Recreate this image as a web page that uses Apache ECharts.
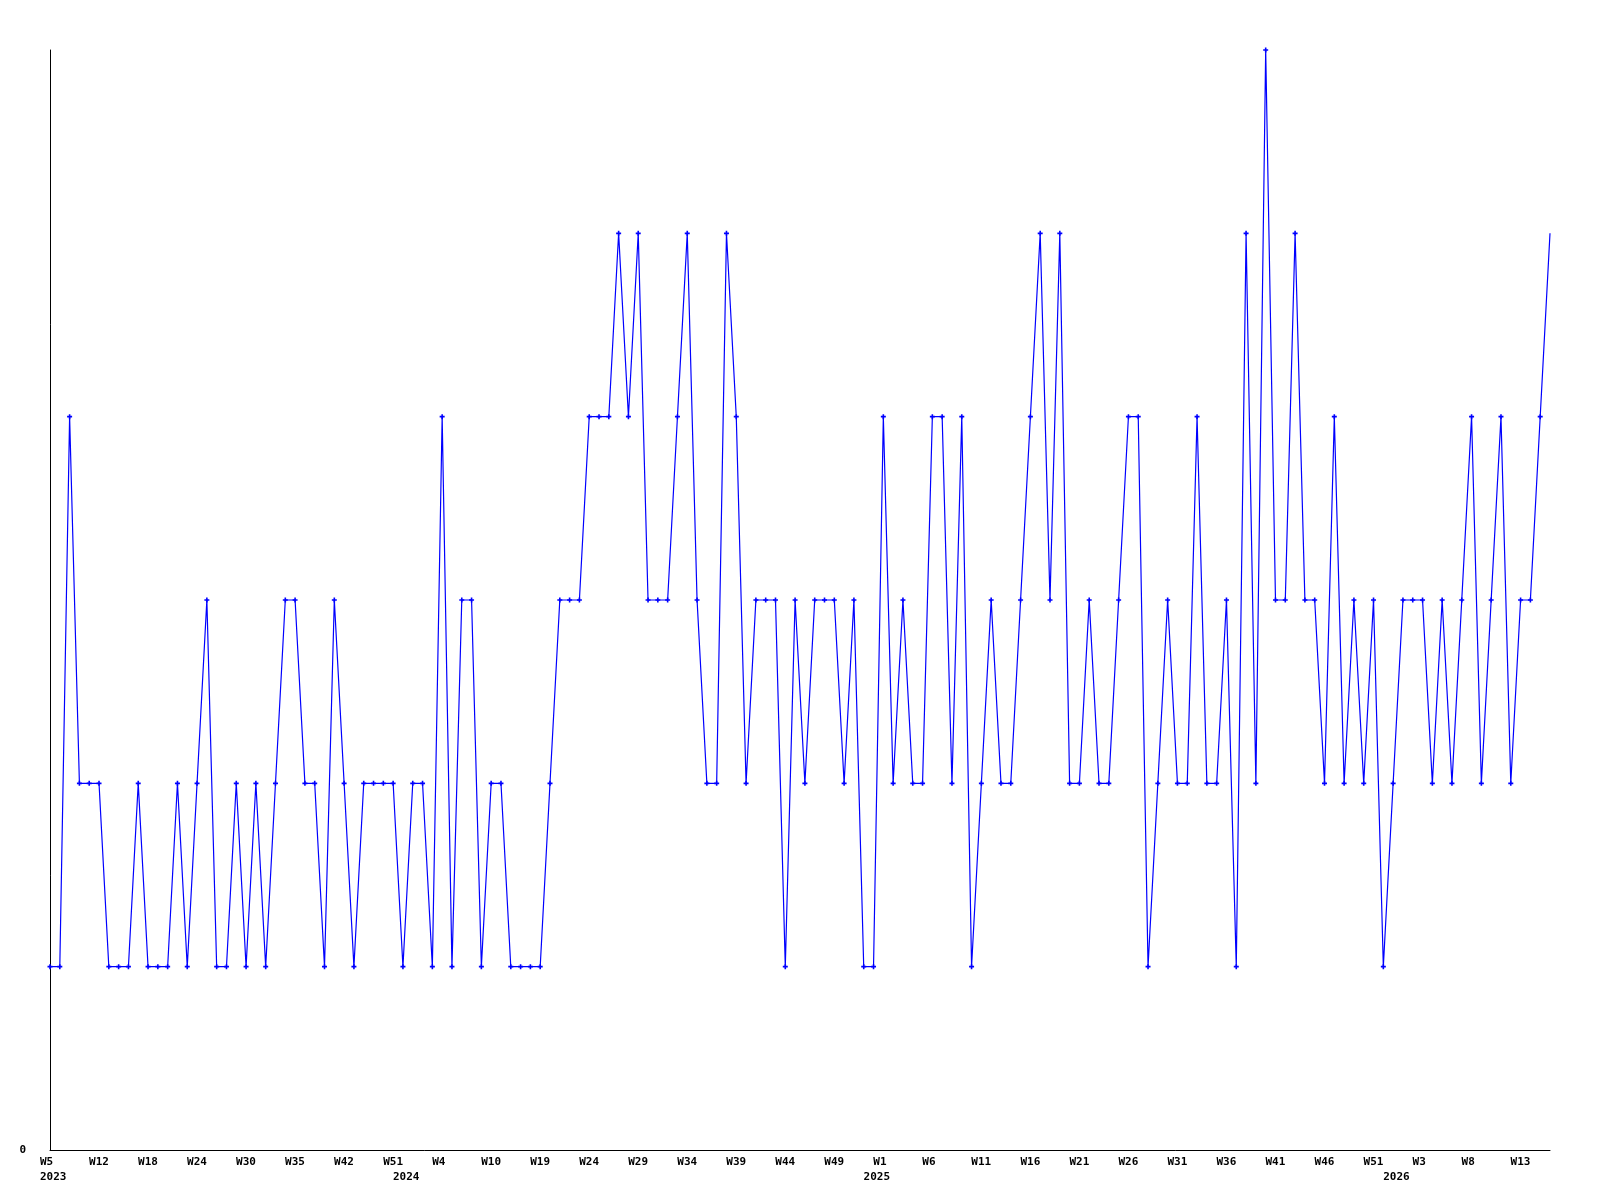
<!DOCTYPE html>
<html>
<head>
<meta charset="utf-8">
<script src="https://cdn.jsdelivr.net/npm/echarts@6/dist/echarts.min.js"></script>
<style>
html,body{margin:0;padding:0;background:#fff;}
#chart{width:1600px;height:1200px;}
</style>
</head>
<body>
<div id="chart"></div>
<script>
// Weekly values (one per point)
const values = [
  1,1,4,2,2,2,1,1,1,2,
  1,1,1,2,1,2,3,1,1,2,
  1,2,1,2,3,3,2,2,1,3,
  2,1,2,2,2,2,1,2,2,1,
  4,1,3,3,1,2,2,1,1,1,
  1,2,3,3,3,4,4,4,5,4,
  5,3,3,3,4,5,3,2,2,5,
  4,2,3,3,3,1,3,2,3,3,
  3,2,3,1,1,4,2,3,2,2,
  4,4,2,4,1,2,3,2,2,3,
  4,5,3,5,2,2,3,2,2,3,
  4,4,1,2,3,2,2,4,2,2,
  3,1,5,2,6,3,3,5,3,3,
  2,4,2,3,2,3,1,2,3,3,
  3,2,3,2,3,4,2,3,4,2,
  3,3,4,5
];
// Week tick labels, one every 5th point
const weekTicks = ['W5','W12','W18','W24','W30','W35','W42','W51','W4','W10','W19','W24','W29','W34','W39','W44','W49','W1','W6','W11','W16','W21','W26','W31','W36','W41','W46','W51','W3','W8','W13'];
const weekTickStep = 5;
// Year labels and the point index where each appears
const yearLabels = ['2023','2024','2025','2026'];
const yearLabelIndex = [0,36,84,137];

const n = values.length;
const weekCats = [];
const yearCats = [];
for (let i = 0; i < n; i++) {
  weekCats.push(i % weekTickStep === 0 && weekTicks[i / weekTickStep] ? weekTicks[i / weekTickStep] : '');
  const yi = yearLabelIndex.indexOf(i);
  yearCats.push(yi >= 0 ? yearLabels[yi] : '');
}

const FONT = 'DejaVu Sans Mono';
const labelRich = { t: { width: 20, align: 'left', fontFamily: FONT, fontWeight: 'bold', fontSize: 11, color: '#000' } };

const chart = echarts.init(document.getElementById('chart'), null, { renderer: 'canvas' });
chart.setOption({
  animation: false,
  backgroundColor: '#ffffff',
  grid: { left: 50, right: 50, top: 50, bottom: 50, containLabel: false },
  xAxis: [
    {
      type: 'category',
      data: weekCats,
      boundaryGap: false,
      position: 'bottom',
      axisLine: { show: true, onZero: false, lineStyle: { color: '#000', width: 1 } },
      axisTick: { show: false },
      splitLine: { show: false },
      axisLabel: {
        interval: 0, margin: 7, align: 'center',
        formatter: v => v ? '{t|' + v + '}' : '',
        rich: labelRich
      }
    },
    {
      type: 'category',
      data: yearCats,
      boundaryGap: false,
      position: 'bottom',
      axisLine: { show: false },
      axisTick: { show: false },
      splitLine: { show: false },
      axisLabel: {
        interval: 0, margin: 22, align: 'center',
        formatter: v => v ? '{t|' + v + '}' : '',
        rich: labelRich
      }
    }
  ],
  yAxis: {
    type: 'value',
    min: 0, max: 6, interval: 6,
    axisLine: { show: true, lineStyle: { color: '#000', width: 1 } },
    axisTick: { show: false },
    splitLine: { show: false },
    axisLabel: {
      margin: 24,
      fontFamily: FONT, fontWeight: 'bold', fontSize: 11, color: '#000',
      formatter: v => v === 0 ? '0' : ''
    }
  },
  series: [{
    type: 'line',
    xAxisIndex: 0,
    data: values,
    showAllSymbol: true,
    symbol: (v, p) => p.dataIndex === n - 1 ? 'none' : 'path://M1.7,0H3.3V1.7H5V3.3H3.3V5H1.7V3.3H0V1.7H1.7Z',
    symbolSize: 5,
    itemStyle: { color: '#0000ff' },
    lineStyle: { color: '#0000ff', width: 1.2 },
    emphasis: { disabled: true }
  }]
});
</script>
</body>
</html>
